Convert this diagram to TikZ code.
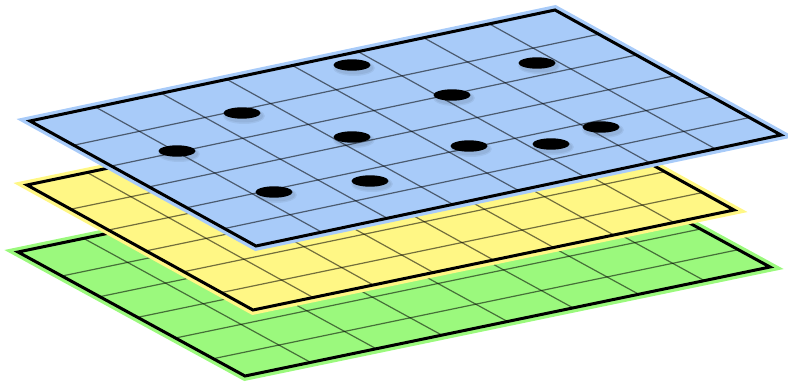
\documentclass[tikz,border=0pt]{standalone}
\usetikzlibrary{calc}
\definecolor{lblue}{HTML}{A8CBF9}
\definecolor{lyellow}{HTML}{FFF785}
\definecolor{lgreen}{HTML}{9BF97D}
\tikzset{
  gridline/.style={black, opacity=0.55, line width=1.2pt},
  borderline/.style={black, line width=3pt, line join=miter},
  dotmark/.style={fill=black},
  dotshadow/.style={fill=black, opacity=0.06},
}
\newcommand\drawlayer[5]{%
  \coordinate (#1L) at #2;
  \coordinate (#1B) at #3;
  \coordinate (#1R) at #4;
  \coordinate (#1T) at ($(#1L)+(#1R)-(#1B)$);
  \filldraw[fill=#5, draw=#5, line width=9.5pt, line join=miter]
    (#1L)--(#1B)--(#1R)--(#1T)--cycle;
  \begin{scope}
    \clip (#1L)--(#1B)--(#1R)--(#1T)--cycle;
    \foreach \k in {1,...,5} {
      \pgfmathsetmacro\uu{\k/6+0.027}
      \draw[gridline] ($(#1L)!\uu!(#1B)$) -- ($(#1T)!\uu!(#1R)$);
    }
    \foreach \j in {1,...,7} {
      \pgfmathsetmacro\vv{\j/8}
      \draw[gridline] ($(#1L)!\vv!(#1T)$) -- ($(#1B)!\vv!(#1R)$);
    }
  \end{scope}
  \draw[borderline] (#1L)--(#1B)--(#1R)--(#1T)--cycle;
}
\newcommand\blackdot[1]{%
  \fill[dotshadow] ($#1+(2,3)$) ellipse (21 and 8);
  \fill[dotshadow] ($#1+(2,3)$) ellipse (19.5 and 6.5);
  \fill[dotmark] #1 ellipse (18.5 and 5.7);
}
\begin{document}
\begin{tikzpicture}[x=1pt,y=-1pt]
  \useasboundingbox (0,0) rectangle (788,384);
  \drawlayer{g}{(18,252)}{(245,376)}{(770,267)}{lgreen}
  \drawlayer{y}{(27,185)}{(253,310)}{(734,210)}{lyellow}
  \drawlayer{b}{(30,121)}{(256,246)}{(781,135)}{lblue}
  \blackdot{(352,65)}
  \blackdot{(537,63)}
  \blackdot{(242,113)}
  \blackdot{(452,95)}
  \blackdot{(352,137)}
  \blackdot{(601,127)}
  \blackdot{(177,151)}
  \blackdot{(469,146)}
  \blackdot{(551,144)}
  \blackdot{(274,192)}
  \blackdot{(370,181)}
\end{tikzpicture}
\end{document}
